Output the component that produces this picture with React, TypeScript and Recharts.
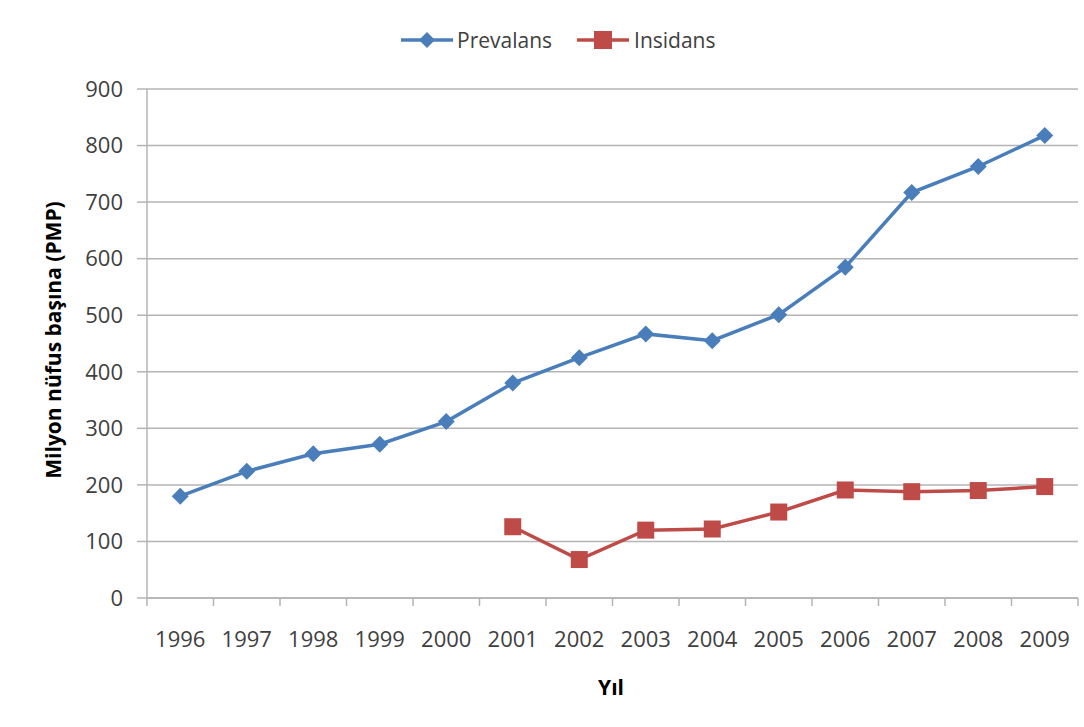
import { LineChart, Line, XAxis, YAxis, CartesianGrid, Legend } from 'recharts'

const years = ['1996', '1997', '1998', '1999', '2000', '2001', '2002', '2003', '2004', '2005', '2006', '2007', '2008', '2009']
const prevalans = [180, 224, 255, 272, 312, 380, 425, 467, 455, 501, 585, 717, 763, 818]
const insidans = [null, null, null, null, null, 126, 68, 120, 122, 152, 191, 188, 190, 197]
const yTicks = [0, 100, 200, 300, 400, 500, 600, 700, 800, 900]

const BLUE = '#4a7ebb'
const RED = '#be4b48'
const GRID = '#b4b4b4'
const TEXT = '#404040'
const FONT = '"Open Sans", sans-serif'

const W = 1084
const H = 727
const PLOT_LEFT = 147
const PLOT_RIGHT = 6
const BAND = (W - PLOT_LEFT - PLOT_RIGHT) / years.length

// each year sits in the middle of its band on a numeric axis 0..n
const data = years.map((year, i) => ({
  x: i + 0.5,
  year,
  prevalans: prevalans[i],
  insidans: insidans[i],
}))
const xTicks = years.map((_, i) => i).concat(years.length)

const Diamond = (props: any) => {
  const { cx, cy, index } = props
  if (cx == null || cy == null) return <g key={index} />
  const r = 8.5
  return (
    <path
      key={index}
      d={`M${cx},${cy - r}L${cx + r},${cy}L${cx},${cy + r}L${cx - r},${cy}Z`}
      fill={BLUE}
    />
  )
}

const Square = (props: any) => {
  const { cx, cy, index, payload } = props
  if (cx == null || cy == null || payload.insidans == null) return <g key={index} />
  const s = 8.5
  return <rect key={index} x={cx - s} y={cy - s} width={s * 2} height={s * 2} fill={RED} />
}

const YearTick = (props: any) => {
  const { x, y, payload } = props
  const label = years[payload.value]
  if (!label) return <g />
  return (
    <text x={x + BAND / 2} y={y} dy="0.71em" textAnchor="middle" fill={TEXT} fontSize={22} fontFamily={FONT}>
      {label}
    </text>
  )
}

const LegendContent = () => (
  <div style={{ display: 'flex', alignItems: 'center', fontFamily: FONT, fontSize: 21, color: TEXT }}>
    <svg width={52} height={20}>
      <line x1={0} y1={10} x2={52} y2={10} stroke={BLUE} strokeWidth={3.5} />
      <path d="M26,2L34,10L26,18L18,10Z" fill={BLUE} />
    </svg>
    <span style={{ marginLeft: 4, marginRight: 25 }}>Prevalans</span>
    <svg width={52} height={20}>
      <line x1={0} y1={10} x2={52} y2={10} stroke={RED} strokeWidth={3.5} />
      <rect x={17} y={1} width={18} height={18} fill={RED} />
    </svg>
    <span style={{ marginLeft: 5 }}>Insidans</span>
  </div>
)

export default function App() {
  return (
    <div style={{ width: W, height: H, background: '#fff' }}>
      <style>{'body { margin: 0; }'}</style>
      <LineChart width={W} height={H} data={data} margin={{ top: 89, right: PLOT_RIGHT, left: 0, bottom: 0 }}>
        <CartesianGrid vertical={false} stroke={GRID} strokeWidth={1.5} />
        <XAxis
          dataKey="x"
          type="number"
          domain={[0, years.length]}
          ticks={xTicks}
          interval={0}
          height={129}
          tick={<YearTick />}
          tickSize={8}
          tickMargin={25}
          stroke={GRID}
          strokeWidth={1.5}
          label={{
            content: () => (
              <text x={611} y={687} textAnchor="middle" dominantBaseline="central" fill="#000" fontSize={21} fontWeight="bold" fontFamily={FONT}>
                Yıl
              </text>
            ),
          }}
        />
        <YAxis
          domain={[0, 900]}
          ticks={yTicks}
          width={PLOT_LEFT}
          tickSize={10}
          tickMargin={14}
          stroke={GRID}
          strokeWidth={1.5}
          tick={{ fill: TEXT, fontSize: 22, fontFamily: FONT }}
          label={{
            content: () => (
              <text
                x={53}
                y={340}
                transform="rotate(-90 53 340)"
                textAnchor="middle"
                dominantBaseline="central"
                fill="#000"
                fontSize={21}
                fontWeight="bold"
                fontFamily={FONT}
              >
                Milyon nüfus başına (PMP)
              </text>
            ),
          }}
        />
        <Legend
          layout="horizontal"
          verticalAlign="middle"
          align="center"
          wrapperStyle={{ left: 401, top: 26, width: 'auto' }}
          content={<LegendContent />}
        />
        <Line
          dataKey="prevalans"
          stroke={BLUE}
          strokeWidth={3.5}
          dot={Diamond}
          activeDot={false}
          isAnimationActive={false}
        />
        <Line
          dataKey="insidans"
          stroke={RED}
          strokeWidth={3.5}
          dot={Square}
          activeDot={false}
          isAnimationActive={false}
        />
      </LineChart>
    </div>
  )
}
